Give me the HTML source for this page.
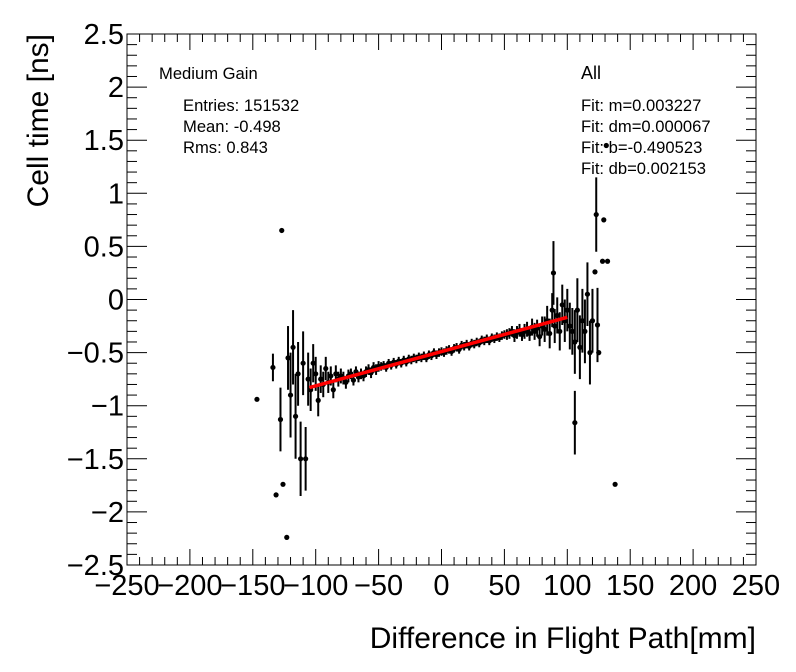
<!DOCTYPE html>
<html><head><meta charset="utf-8"><style>
body{margin:0;background:#fff;}
svg{display:block;font-family:"Liberation Sans",sans-serif;}
</style></head><body>
<svg id="c" width="796" height="672"></svg>
<script>
const outX=[-146.7,-134,-131.5,-127,-126,-123,-128,106,122,123,124,125,128,129,132,138,131,89];
const outY=[-0.94,-0.64,-1.84,0.65,-1.74,-2.24,-1.13,-1.16,0.26,0.8,-0.24,-0.5,0.36,0.75,0.36,-1.74,1.45,0.25];
const outE=[0,0.13,0,0,0,0,0.3,0.3,0,0.35,0.35,0,0,0,0,0,0,0.3];
const mainY=[-0.55,-0.9,-0.45,-1.1,-0.7,-1.5,-0.6,-1.5,-0.75,
-0.85,-0.6,-0.7,-0.95,-0.75,-0.8,-0.65,-0.78,-0.72,-0.85,-0.7,-0.75,-0.72,
-0.74,-0.78,-0.72,-0.7,-0.76,-0.68,-0.73,-0.7,-0.72,-0.68,-0.66,-0.69,-0.64,-0.66,-0.63,
-0.63,-0.62,-0.64,-0.6,-0.62,-0.59,-0.61,-0.58,-0.6,-0.57,-0.59,-0.56,-0.57,-0.55,-0.56,-0.54,-0.55,-0.53,-0.55,-0.52,-0.53,-0.5,-0.52,-0.5,-0.49,
-0.5,-0.48,-0.47,-0.49,-0.46,-0.45,-0.47,-0.43,-0.44,-0.42,-0.44,-0.41,-0.42,-0.4,-0.41,-0.38,-0.39,-0.37,-0.39,-0.36,-0.37,-0.35,-0.36,-0.34,-0.33,
-0.33,-0.32,-0.3,-0.34,-0.31,-0.29,-0.33,-0.3,-0.28,-0.32,-0.26,-0.3,-0.27,-0.35,-0.25,
-0.28,-0.2,-0.32,-0.1,-0.25,-0.15,-0.3,-0.05,-0.2,-0.1,-0.25,-0.3,
-0.4,-0.1,-0.45,-0.2,-0.3,0.05,-0.5,-0.2];
const mainE=[0.3,0.4,0.35,0.4,0.3,0.35,0.3,0.3,0.25,
0.2,0.18,0.16,0.15,0.13,0.12,0.11,0.1,0.09,0.08,0.08,0.07,0.07,
0.06,0.06,0.06,0.05,0.05,0.05,0.05,0.05,0.05,0.05,0.05,0.05,0.05,0.05,0.05,
0.04,0.04,0.04,0.04,0.04,0.04,0.04,0.04,0.04,0.04,0.04,0.04,0.04,0.04,0.04,0.04,0.04,0.04,0.04,0.04,0.04,0.04,0.04,0.04,0.04,
0.04,0.04,0.04,0.04,0.04,0.04,0.04,0.04,0.04,0.04,0.04,0.04,0.04,0.04,0.04,0.04,0.04,0.04,0.04,0.04,0.04,0.04,0.04,0.04,0.04,
0.05,0.05,0.05,0.06,0.06,0.06,0.06,0.07,0.07,0.07,0.08,0.08,0.08,0.09,0.09,
0.12,0.14,0.14,0.16,0.16,0.17,0.18,0.19,0.2,0.2,0.22,0.22,
0.3,0.3,0.3,0.3,0.3,0.3,0.3,0.3];
const mainX0=-122, mainStep=2;
const fitM=0.003227, fitB=-0.490523, fitX=[-105,100];
const xTicks=[-250,-200,-150,-100,-50,0,50,100,150,200,250];
const yTicks=[-2.5,-2,-1.5,-1,-0.5,0,0.5,1,1.5,2,2.5];
const yLabels=["\u22122.5","\u22122","\u22121.5","\u22121","\u22120.5","0","0.5","1","1.5","2","2.5"];
const xLabels=["\u2212250","\u2212200","\u2212150","\u2212100","\u221250","0","50","100","150","200","250"];

const L=127,R=756,T=34,B=565;
const sx=v=>L+(v+250)/500*(R-L);
const sy=v=>B-(v+2.5)/5*(B-T);
const svg=document.getElementById('c');
const NS="http://www.w3.org/2000/svg";
function mk(t,a,p){const e=document.createElementNS(NS,t);for(const k in a)e.setAttribute(k,a[k]);(p||svg).appendChild(e);return e;}

const frame=mk('rect',{x:L,y:T,width:R-L,height:B-T,fill:'none',stroke:'#000','stroke-width':1});



const ax=mk('g',{stroke:'#000','stroke-width':1});


for(let v=-250;v<=250.01;v+=10){const X=sx(v);const maj=Math.abs(v%50)<0.01;const len=maj?16:8;
 mk('line',{x1:X,y1:B,x2:X,y2:B-len},ax);mk('line',{x1:X,y1:T,x2:X,y2:T+len},ax);}
for(let i=-25;i<=25;i++){const v=i/10;const Y=sy(v);const maj=i%5===0;const len=maj?20:10;
 mk('line',{x1:L,y1:Y,x2:L+len,y2:Y},ax);mk('line',{x1:R,y1:Y,x2:R-len,y2:Y},ax);}

xTicks.forEach((v,i)=>{const t=mk('text',{x:sx(v),y:595,'font-size':29,'text-anchor':'middle'});t.textContent=xLabels[i];
 
 });
yTicks.forEach((v,i)=>{const t=mk('text',{x:124,y:sy(v)+10,'font-size':29,'text-anchor':'end'});t.textContent=yLabels[i];
 
 });

const xt=mk('text',{x:756,y:648,'font-size':30,'text-anchor':'end'});xt.textContent='Difference in Flight Path[mm]';


const yt=mk('text',{x:48,y:34,'font-size':30,'text-anchor':'end',transform:'rotate(-90 48 34)'});yt.textContent='Cell time [ns]';



const g=mk('g',{fill:'#000',stroke:'#000','stroke-width':2});


function pt(x,y,e){const X=sx(x),Y=sy(y);
 if(e>0){const l=mk('line',{x1:X,y1:sy(y+e),x2:X,y2:sy(y-e)},g);}
 const c=mk('circle',{cx:X,cy:Y,r:2.6,stroke:'none'},g);
 
 }
mainY.forEach((y,i)=>pt(mainX0+i*mainStep,y,mainE[i]));
outX.forEach((x,i)=>pt(x,outY[i],outE[i]));

const fl=mk('line',{x1:sx(fitX[0]),y1:sy(fitM*fitX[0]+fitB),x2:sx(fitX[1]),y2:sy(fitM*fitX[1]+fitB),stroke:'#ff0000','stroke-width':3.5});



function txt(s,x,y,n,sz){const t=mk('text',{x:x,y:y,'font-size':sz||16.6});t.textContent=s;
 
 }
txt('Medium Gain',159,79,'gain-label');
txt('Entries: 151532',183,111,'stat-entries');
txt('Mean: -0.498',183,132,'stat-mean');
txt('Rms: 0.843',183,153,'stat-rms');
txt('All',581,79,'selection-label',18);
txt('Fit: m=0.003227',581,111,'fit-m');
txt('Fit: dm=0.000067',581,132,'fit-dm');
txt('Fit: b=-0.490523',581,153,'fit-b');
txt('Fit: db=0.002153',581,174,'fit-db');
</script>
</body></html>
